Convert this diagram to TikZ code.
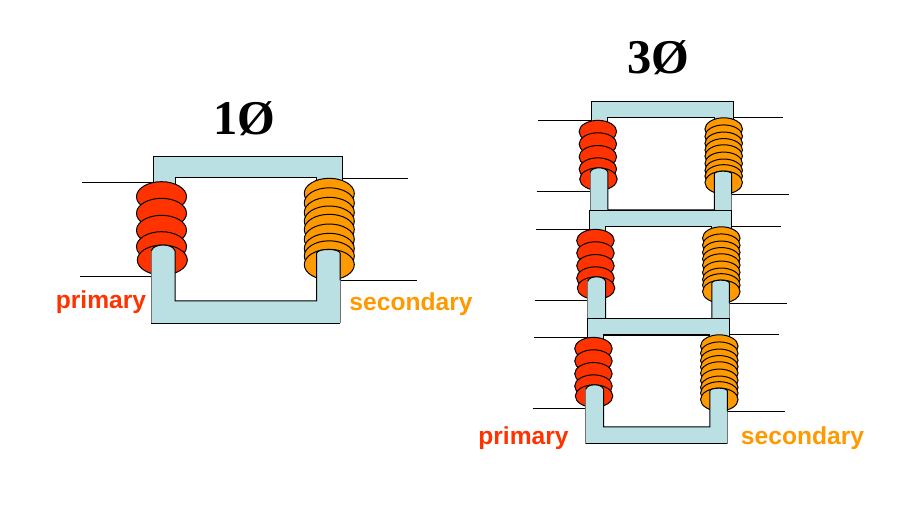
\documentclass[tikz,border=0pt]{standalone}
\usepackage{fontspec}
\setmainfont{Liberation Sans}
\newfontfamily\titlefont{Liberation Serif}
\definecolor{core}{HTML}{BBE0E3}
\definecolor{prim}{HTML}{FF3300}
\definecolor{seco}{HTML}{FF9900}
\tikzset{
  coreline/.style={black,line width=1pt},
  wire/.style={black,line width=1pt},
  coil/.style={draw=black,line width=1pt},
  greyedge/.style={draw=black!55,line width=1pt},
  title/.style={font=\titlefont\bfseries\fontsize{48.5}{48.5}\selectfont,anchor=base,inner sep=0pt},
  lab/.style={font=\bfseries\fontsize{24.6}{24.6}\selectfont,anchor=base,inner sep=0pt},
}
\newcommand{\tfunit}[3]{%
\begin{scope}[shift={(#1,#2)},scale=#3,shift={(-153.3,-156.3)}]
  % wires
  \draw[wire] (82.3,182.5) -- (153.3,182.5);
  \draw[wire] (80.3,276.3) -- (151.3,276.3);
  \draw[wire] (342.3,178.3) -- (408.3,178.3);
  \draw[wire] (340,280.3) -- (416.7,280.3);
  % upper yoke
  \fill[core] (153.3,156.3) -- (342.3,156.3) -- (342.3,195) -- (316.7,195) -- (316.7,177.3) -- (175,177.3) -- (175,195) -- (153.3,195) -- cycle;
  \draw[coreline] (153.3,195) -- (153.3,156.3) -- (342.3,156.3) -- (342.3,195);
  \draw[coreline] (316.7,195) -- (316.7,177.3) -- (175,177.3) -- (175,195);
  % primary coil
  \foreach \cy in {196.7,213.3,230.3,246.7}
    \filldraw[coil,fill=prim] (161.5,\cy) ellipse [x radius=25,y radius=15];
  \filldraw[coil,fill=prim] (162.3,260) ellipse [x radius=25,y radius=15];
  % secondary coil
  \foreach \cy in {193.5,203,212.5,221.2,229.5,239.2,248.5,256}
    \filldraw[coil,fill=seco] (329.3,\cy) ellipse [x radius=25,y radius=15.2];
  \filldraw[coil,fill=seco] (329.3,264.6) ellipse [x radius=25,y radius=15.3];
  % lower limb and yoke
  \fill[core] (151.3,251) .. controls (153,243) and (173,243) .. (175,251)
     -- (175,301) -- (316.7,301) -- (316.7,253) .. controls (318,248.3) and (339,248.3) .. (340,253)
     -- (340,323.3) -- (151.3,323.3) -- cycle;
  \draw[greyedge] (151.3,251) -- (151.3,323.3);
  \draw[greyedge] (340,253) -- (340,323.3);
  \draw[coreline] (151.3,251) .. controls (153,243) and (173,243) .. (175,251)
     -- (175,301) -- (316.7,301) -- (316.7,253) .. controls (318,248.3) and (339,248.3) .. (340,253) -- (340,280.3);
  \draw[coreline] (151.3,323.3) -- (340,323.3);
\end{scope}}
\begin{document}
\begin{tikzpicture}[x=1pt,y=-1pt]
  \useasboundingbox (0,0) rectangle (907,526);
  \fill[white] (0,0) rectangle (907,526);
  \tfunit{153.3}{156.3}{1}
  \tfunit{591.7}{101.3}{0.75}
  \tfunit{589.3}{210.3}{0.75}
  \tfunit{587.3}{318.3}{0.75}
  \node[title] (t1) at (244,134.3) {1Ø};
  \node[title] (t3) at (658.5,73.5) {3Ø};
  \node[lab,text=prim] (p1) at (101,309) {primary};
  \node[lab,text=seco] (s1) at (411,311) {secondary};
  \node[lab,text=prim] (p3) at (523.5,444) {primary};
  \node[lab,text=seco] (s3) at (802.5,444) {secondary};
\end{tikzpicture}
\end{document}
